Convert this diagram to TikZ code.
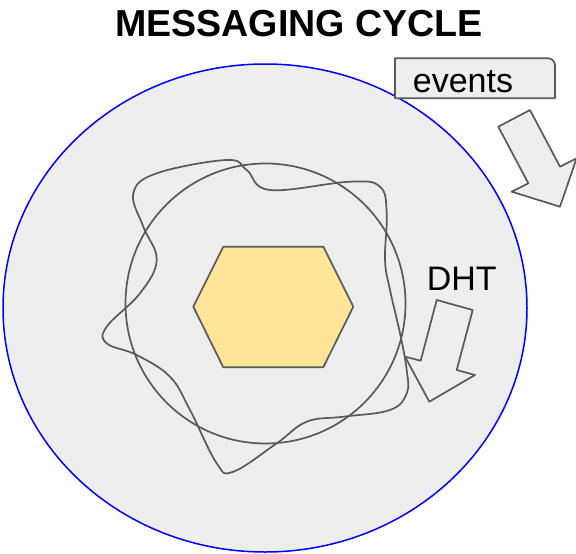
\documentclass[tikz,border=0pt]{standalone}
\usepackage{fontspec}
\setmainfont{Liberation Sans}
\definecolor{bgray}{HTML}{EEEEEE}
\definecolor{lgray}{HTML}{595959}
\definecolor{hexyellow}{HTML}{FFE599}
\begin{document}
\begin{tikzpicture}[x=1pt,y=-1pt]
  \tikzstyle{every node}+=[inner sep=0pt]
  \tikzstyle{shape line}=[draw=lgray,line width=1.7pt,line join=round]
  \useasboundingbox (0,0) rectangle (576,554);
  % outer ellipse
  \draw [blue,fill=bgray,line width=1.5pt] (265,308) ellipse (262 and 244);
  \node (title) at (299,23.5) {\fontsize{37.6}{40}\selectfont\bfseries MESSAGING CYCLE};
  % events box and arrow
  \draw [shape line,fill=bgray] (395,58.3) -- (548,58.3) arc (-90:0:7) -- (555,98.3) -- (395,98.3) -- cycle;
  \node (events) at (463,82) {\fontsize{34}{36}\selectfont events};
  \draw [shape line,fill=bgray] (498.3,126.7) -- (530,110) -- (560,166.7) -- (576.6,158.3)
    -- (560,206.7) -- (511.7,191.7) -- (528.3,183.3) -- cycle;
  % inner circle
  \draw [shape line] (265.5,303.5) circle (140);
  % wavy loop
  \draw [shape line] plot [smooth cycle,tension=0.65] coordinates {
    (133.3,193.3) (156.7,173.3) (226.7,160) (246.7,170) (270,190) (350,181.7)
    (380,186.7) (386.7,213.3) (385,260) (390,290) (400,333.3) (406.7,370)
    (406.7,393.3) (390,410) (343.3,416.7) (306.7,421.7) (276.7,443.3)
    (233.3,471.7) (216.7,463.3) (190,410) (170,376.7) (136.7,355)
    (106.7,343.3) (106.7,326.7) (140,293.3) (156.7,260) (143.3,226.7)};
  % hexagon
  \draw [shape line,fill=hexyellow] (223.3,246.7) -- (323.3,246.7) -- (353.3,306.7)
    -- (323.3,367.3) -- (223.3,367.3) -- (193.3,306.7) -- cycle;
  % DHT label and arrow
  \node (dht) at (461.7,279) {\fontsize{34}{36}\selectfont DHT};
  \draw [shape line,fill=bgray] (436.7,300) -- (472.7,310) -- (456.7,370) -- (475,375)
    -- (429.3,401.7) -- (405,356.7) -- (420.7,360.7) -- cycle;
\end{tikzpicture}
\end{document}
